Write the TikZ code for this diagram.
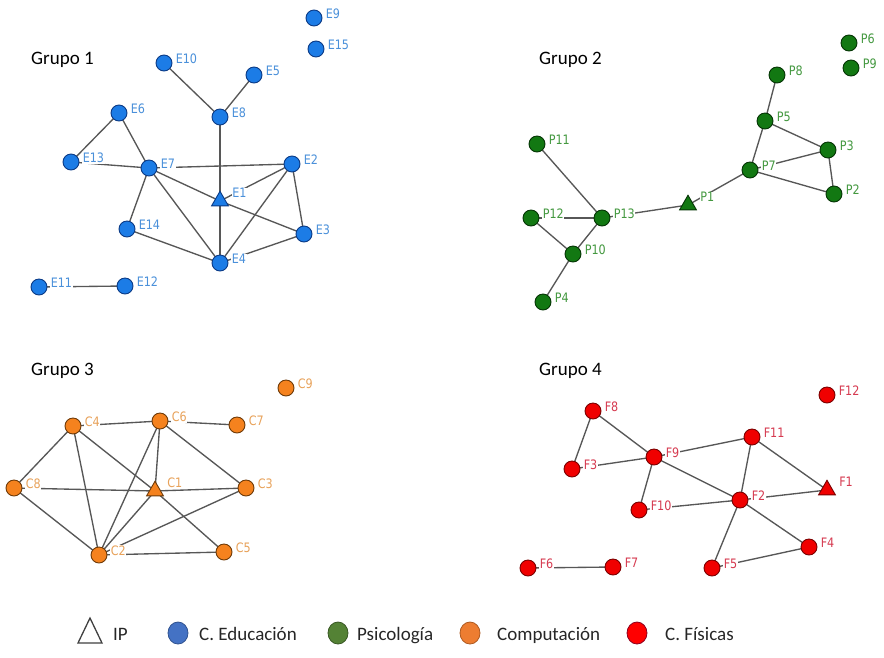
\documentclass[tikz,border=0pt]{standalone}
\usepackage{fontspec}
\setmainfont{Carlito}
\newfontfamily\lblfont{DejaVu Sans}[FakeStretch=0.86]
\usetikzlibrary{shapes.geometric}
\pgfdeclarelayer{bg}
\pgfsetlayers{bg,main}
\definecolor{eF}{HTML}{1C7CE6}\definecolor{eD}{HTML}{0B3A85}\definecolor{eL}{HTML}{4A90DA}
\definecolor{pF}{HTML}{127812}\definecolor{pD}{HTML}{053505}\definecolor{pL}{HTML}{43983F}
\definecolor{cF}{HTML}{F5821E}\definecolor{cD}{HTML}{6E3A08}\definecolor{cL}{HTML}{E8A25A}
\definecolor{fF}{HTML}{F00000}\definecolor{fD}{HTML}{7A0000}\definecolor{fL}{HTML}{D63A50}
\definecolor{edgegray}{HTML}{575757}
\definecolor{legtext}{HTML}{262626}
\tikzset{
  circ/.style={circle, minimum size=16pt, inner sep=0pt, line width=0.9pt},
  tri/.style={regular polygon, regular polygon sides=3, minimum size=19.5pt, inner sep=0pt, line width=0.9pt},
  en/.style={circ, fill=eF, draw=eD}, et/.style={tri, fill=eF, draw=eD},
  pn/.style={circ, fill=pF, draw=pD}, pt/.style={tri, fill=pF, draw=pD},
  cn/.style={circ, fill=cF, draw=cD}, ct/.style={tri, fill=cF, draw=cD},
  fn/.style={circ, fill=fF, draw=fD}, ft/.style={tri, fill=fF, draw=fD},
  lab/.style={font=\lblfont\fontsize{13}{14}\selectfont, fill=white, inner sep=0.6pt, anchor=west},
  el/.style={lab, text=eL}, pl/.style={lab, text=pL}, cl/.style={lab, text=cL}, fl/.style={lab, text=fL},
  edge/.style={draw=edgegray, line width=1.35pt},
  title/.style={font=\fontsize{19}{22}\selectfont, text=black, anchor=west, inner sep=0pt},
  legt/.style={font=\fontsize{19}{22}\selectfont, text=legtext, anchor=base west, inner sep=0pt},
  legc/.style={ellipse, minimum width=20pt, minimum height=22pt, inner sep=0pt, line width=0.8pt},
}
\newcommand\vtx[4]{\node[#1] (#3) at (#4) {};\node[#2] at ([shift={(11,-4)}]#3.center) {#3};}
\newcommand\vtri[4]{\node[#1] (#3) at (#4) {};\node[#2] at ([shift={(11.5,-8)}]#3.center) {#3};}
\begin{document}
\begin{tikzpicture}[x=1pt,y=-1pt]
\useasboundingbox (0,0) rectangle (884,657);
% titles
\node[title] (g1) at (31,60) {Grupo 1};
\node[title] (g2) at (539,60) {Grupo 2};
\node[title] (g3) at (31,371) {Grupo 3};
\node[title] (g4) at (539,371) {Grupo 4};
% Group 1
\vtx{en}{el}{E9}{314,18}
\vtx{en}{el}{E15}{316,49}
\vtx{en}{el}{E10}{164,63}
\vtx{en}{el}{E5}{254,75}
\vtx{en}{el}{E8}{220,117}
\vtx{en}{el}{E6}{119,113}
\vtx{en}{el}{E13}{71,162}
\vtx{en}{el}{E7}{149,168}
\vtx{en}{el}{E2}{292,164}
\vtri{et}{el}{E1}{220,201}
\vtx{en}{el}{E14}{127,229}
\vtx{en}{el}{E3}{304,234}
\vtx{en}{el}{E4}{220,263}
\vtx{en}{el}{E11}{39,287}
\vtx{en}{el}{E12}{125,286}
% Group 2
\vtx{pn}{pl}{P6}{849,43}
\vtx{pn}{pl}{P9}{851,68}
\vtx{pn}{pl}{P8}{777,75}
\vtx{pn}{pl}{P5}{765,121}
\vtx{pn}{pl}{P3}{828,150}
\vtx{pn}{pl}{P7}{750,170}
\vtx{pn}{pl}{P2}{834,194}
\vtri{pt}{pl}{P1}{688,205}
\vtx{pn}{pl}{P11}{537,144}
\vtx{pn}{pl}{P13}{602,218}
\vtx{pn}{pl}{P12}{531,218}
\vtx{pn}{pl}{P10}{573,254}
\vtx{pn}{pl}{P4}{543,302}
% Group 3
\vtx{cn}{cl}{C9}{286,388}
\vtx{cn}{cl}{C4}{73,426}
\vtx{cn}{cl}{C6}{160,421}
\vtx{cn}{cl}{C7}{237,425}
\vtx{cn}{cl}{C8}{14,488}
\vtri{ct}{cl}{C1}{155,491}
\vtx{cn}{cl}{C3}{246,488}
\vtx{cn}{cl}{C2}{99,555}
\vtx{cn}{cl}{C5}{224,552}
% Group 4
\vtx{fn}{fl}{F12}{827,395}
\vtx{fn}{fl}{F8}{593,411}
\vtx{fn}{fl}{F11}{752,437}
\vtx{fn}{fl}{F9}{654,457}
\vtx{fn}{fl}{F3}{572,469}
\vtri{ft}{fl}{F1}{827,490}
\vtx{fn}{fl}{F2}{740,500}
\vtx{fn}{fl}{F10}{639,510}
\vtx{fn}{fl}{F4}{809,547}
\vtx{fn}{fl}{F6}{528,568}
\vtx{fn}{fl}{F7}{613,567}
\vtx{fn}{fl}{F5}{712,568}
% edges
\begin{pgfonlayer}{bg}
\foreach \a/\b in {E10/E8,E5/E8,E8/E1,E1/E4,E6/E13,E6/E7,E13/E7,E7/E2,E7/E1,E1/E3,E1/E2,E7/E14,E7/E4,E14/E4,E2/E4,E2/E3,E3/E4,E11/E12,
  P8/P5,P5/P3,P5/P7,P7/P3,P7/P2,P3/P2,P1/P7,P13/P1,P11/P13,P12/P13,P12/P10,P13/P10,P10/P4,
  C4/C6,C6/C7,C4/C8,C4/C2,C4/C1,C6/C2,C6/C1,C6/C3,C8/C1,C1/C3,C8/C2,C1/C2,C1/C5,C2/C3,C2/C5,
  F8/F3,F8/F9,F3/F9,F9/F11,F9/F10,F9/F2,F11/F2,F11/F1,F2/F1,F10/F2,F2/F4,F2/F5,F5/F4,F6/F7}
  \draw[edge] (\a.center) -- (\b.center);
\end{pgfonlayer}
% legend
\draw[line width=1.3pt, draw=black!75, fill=white] (78,643) -- (90,618) -- (102,643) -- cycle;
\node[legt] (lip) at (113,640) {IP};
\node[legc, fill={rgb,255:red,68;green,114;blue,196}, draw={rgb,255:red,47;green,82;blue,143}] (lb) at (178,633) {};
\node[legt] (lbt) at (199,640) {C. Educación};
\node[legc, fill={rgb,255:red,84;green,130;blue,53}, draw={rgb,255:red,56;green,87;blue,35}] (lg) at (338,633) {};
\node[legt] (lgt) at (357,640) {Psicología};
\node[legc, fill={rgb,255:red,237;green,125;blue,49}, draw={rgb,255:red,174;green,90;blue,33}] (lo) at (470,633) {};
\node[legt] (lot) at (497,640) {Computación};
\node[legc, fill={rgb,255:red,255;green,0;blue,0}, draw={rgb,255:red,140;green,0;blue,30}] (lr) at (637,633) {};
\node[legt] (lrt) at (665,640) {C. Físicas};
\end{tikzpicture}
\end{document}
